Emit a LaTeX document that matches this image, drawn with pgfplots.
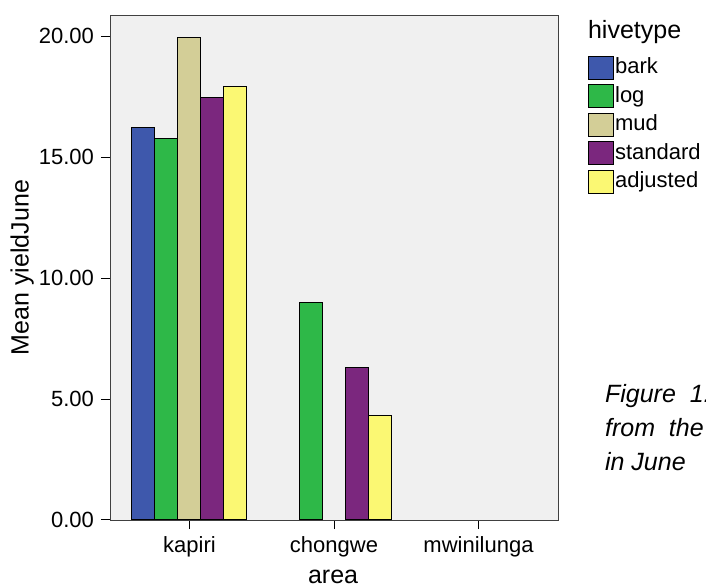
\documentclass[border=0pt]{standalone}
\usepackage{fontspec}
\setmainfont{Liberation Sans}
\usepackage{pgfplots}
\pgfplotsset{compat=1.18}
\definecolor{cbark}{HTML}{3E58AC}
\definecolor{clog}{HTML}{2EB848}
\definecolor{cmud}{HTML}{D3CE97}
\definecolor{cstd}{HTML}{7B277E}
\definecolor{cadj}{HTML}{FBF873}
\definecolor{bg}{HTML}{F0F0F0}
\begin{document}
\begin{tikzpicture}
\useasboundingbox (0,0) rectangle (353pt,294pt);
\begin{axis}[
  at={(55pt,34pt)}, anchor=south west,
  scale only axis, width=224pt, height=252.5pt,
  axis background/.style={fill=bg},
  ybar=0pt, bar width=11.5pt,
  xmin=-0.55, xmax=2.55, ymin=0, ymax=20.87,
  xtick={0,1,2}, xticklabels={kapiri,chongwe,mwinilunga},
  ytick={0,5,10,15,20},
  yticklabel style={/pgf/number format/.cd, fixed, fixed zerofill, precision=2},
  /pgf/number format/assume math mode=true,
  tick align=outside, major tick length=4.5pt,
  xtick pos=bottom, ytick pos=left,
  tick style={black, line width=0.5pt},
  axis line style={draw=black!75},
  ticklabel style={font=\fontsize{11}{13}\selectfont},
  xlabel={area}, ylabel={Mean yieldJune},
  every axis x label/.style={at={(axis description cs:0.498,-0.113)}, anchor=center, font=\fontsize{12.5}{15}\selectfont},
  every axis y label/.style={at={(axis description cs:-0.196,0.5)}, anchor=center, rotate=90, font=\fontsize{12.5}{15}\selectfont},
  legend image code/.code={\draw[#1,draw=black] (0pt,-5.75pt) rectangle (12.5pt,5.75pt);},
  legend style={at={(rel axis cs:1.065,0.925)}, anchor=north west, draw=none, fill=none,
    inner sep=0pt, row sep=0pt, font=\fontsize{11}{13}\selectfont,
    nodes={inner sep=0.8pt, minimum height=14.25pt}},
  legend cell align=left,
  every axis plot/.append style={draw=black, line width=0.5pt},
]
\addplot[fill=cbark] coordinates {(0,16.22)};
\addplot[fill=clog] coordinates {(0,15.77) (1,9.0)};
\addplot[fill=cmud] coordinates {(0,19.95)};
\addplot[fill=cstd] coordinates {(0,17.44) (1,6.32)};
\addplot[fill=cadj] coordinates {(0,17.93) (1,4.3)};
\legend{bark,log,mud,standard,adjusted}
\end{axis}
\node[anchor=west, font=\fontsize{12.5}{15}\selectfont] at (290.5pt,278pt) {hivetype};
\begin{scope}[font=\fontsize{12.5}{15}\selectfont\itshape]
\node[anchor=west] at (299pt,96pt) {Figure \ 1: Mean};
\node[anchor=west] at (299pt,80pt) {from \ the};
\node[anchor=west] at (299pt,63pt) {in June};
\end{scope}
\end{tikzpicture}
\end{document}
